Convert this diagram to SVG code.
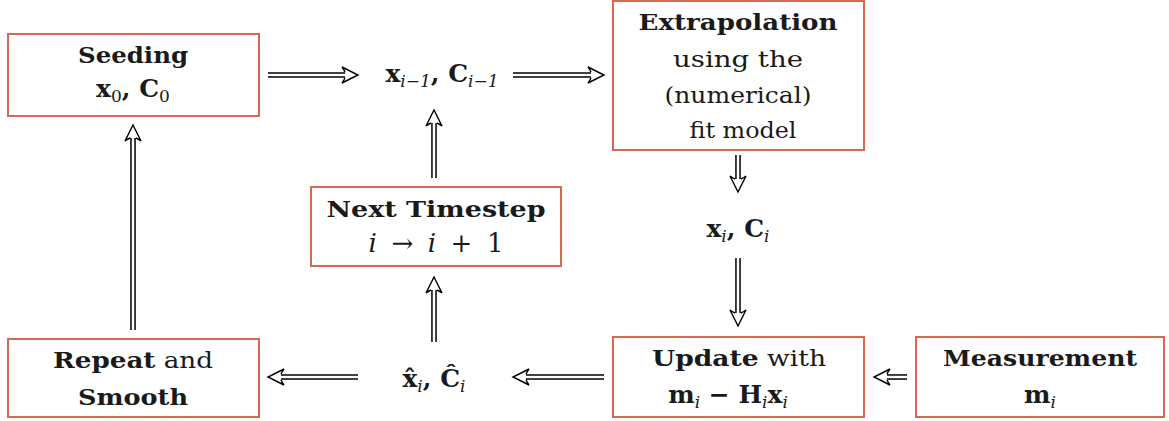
<svg xmlns="http://www.w3.org/2000/svg" width="1169" height="421" viewBox="0 0 1169 421">
<style>
.box{fill:#fff;stroke:#d4694f;stroke-width:2}
text{font-family:"DejaVu Serif","Liberation Serif",serif;fill:#1a1a1a;text-anchor:middle}
.b{font-weight:bold;font-size:22px}
.r{font-size:22px}
.m{font-size:25px;font-weight:bold}
.sub{font-size:17px;font-style:italic;font-weight:normal}
.sn{font-size:17px;font-weight:normal}
.o{stroke:#000;stroke-width:5.6;fill:none}
.i{stroke:#fff;stroke-width:2.6;fill:none}
.h{fill:#fff;stroke:#000;stroke-width:1.4;stroke-linejoin:miter}
</style>
<defs>
<path id="hd" class="h" d="M-13,-2.8 Q-14,-5.5 -16,-8 L0,0 L-16,8 Q-14,5.5 -13,2.8"/>
</defs>
<g id="connectors">
<path class="o" d="M268,75H346"/><use href="#hd" transform="translate(358,75)"/><path class="i" d="M266,75H347"/>
<path class="o" d="M513,75H592"/><use href="#hd" transform="translate(604,75)"/><path class="i" d="M511,75H593"/>
<path class="o" d="M738,155V180"/><use href="#hd" transform="translate(738,192) rotate(90)"/><path class="i" d="M738,153V181"/>
<path class="o" d="M738,258V314"/><use href="#hd" transform="translate(738,326) rotate(90)"/><path class="i" d="M738,256V315"/>
<path class="o" d="M604,377H525"/><use href="#hd" transform="translate(513,377) rotate(180)"/><path class="i" d="M606,377H524"/>
<path class="o" d="M907,377H886"/><use href="#hd" transform="translate(874,377) rotate(180)"/><path class="i" d="M909,377H885"/>
<path class="o" d="M358,377H280"/><use href="#hd" transform="translate(268,377) rotate(180)"/><path class="i" d="M360,377H279"/>
<path class="o" d="M434,342V289"/><use href="#hd" transform="translate(434,277) rotate(-90)"/><path class="i" d="M434,344V288"/>
<path class="o" d="M434,178V122"/><use href="#hd" transform="translate(434,110) rotate(-90)"/><path class="i" d="M434,180V121"/>
<path class="o" d="M133,330V137"/><use href="#hd" transform="translate(133,125) rotate(-90)"/><path class="i" d="M133,332V136"/>
</g>
<g id="seeding">
<rect class="box" x="8" y="34" width="251" height="82"/>
<text class="b" x="133" y="63" textLength="110" lengthAdjust="spacingAndGlyphs">Seeding</text>
<text class="m" x="133" y="97">x<tspan class="sn" dy="5">0</tspan><tspan dy="-5">, C</tspan><tspan class="sn" dy="5">0</tspan></text>
</g>
<g id="state-prev">
<text class="m" x="442" y="82">x<tspan class="sub" dy="5">i−1</tspan><tspan dy="-5">, C</tspan><tspan class="sub" dy="5">i−1</tspan></text>
</g>
<g id="extrapolation">
<rect class="box" x="613" y="1" width="251" height="149"/>
<text class="b" x="738" y="30" textLength="199" lengthAdjust="spacingAndGlyphs">Extrapolation</text>
<text class="r" x="738" y="67" textLength="130" lengthAdjust="spacingAndGlyphs">using the</text>
<text class="r" x="738" y="103" textLength="147" lengthAdjust="spacingAndGlyphs">(numerical)</text>
<text class="r" x="743" y="138" textLength="107" lengthAdjust="spacingAndGlyphs">fit model</text>
</g>
<g id="state-pred">
<text class="m" x="738" y="237">x<tspan class="sub" dy="5">i</tspan><tspan dy="-5">, C</tspan><tspan class="sub" dy="5">i</tspan></text>
</g>
<g id="next-timestep">
<rect class="box" x="311" y="187" width="250" height="79"/>
<text class="b" x="436" y="217" textLength="219" lengthAdjust="spacingAndGlyphs">Next Timestep</text>
<text x="436" y="252" style="font-size:26px" textLength="135" lengthAdjust="spacing"><tspan font-style="italic">i</tspan> → <tspan font-style="italic">i</tspan> + 1</text>
</g>
<g id="state-upd">
<text class="m" x="434" y="387">x̂<tspan class="sub" dy="5">i</tspan><tspan dy="-5">, Ĉ</tspan><tspan class="sub" dy="5">i</tspan></text>
</g>
<g id="repeat-smooth">
<rect class="box" x="8" y="339" width="251" height="78"/>
<text x="133" y="368" class="r" textLength="160" lengthAdjust="spacingAndGlyphs"><tspan font-weight="bold">Repeat</tspan> and</text>
<text class="b" x="133" y="405" textLength="110" lengthAdjust="spacingAndGlyphs">Smooth</text>
</g>
<g id="update">
<rect class="box" x="613" y="337" width="251" height="80"/>
<text x="739" y="366" class="r" textLength="174" lengthAdjust="spacingAndGlyphs"><tspan font-weight="bold">Update</tspan> with</text>
<text class="m" x="728" y="403">m<tspan class="sub" dy="5">i</tspan><tspan dy="-5"> − H</tspan><tspan class="sub" dy="5">i</tspan><tspan dy="-5">x</tspan><tspan class="sub" dy="5">i</tspan></text>
</g>
<g id="measurement">
<rect class="box" x="916" y="337" width="248" height="80"/>
<text class="b" x="1040" y="366" textLength="194" lengthAdjust="spacingAndGlyphs">Measurement</text>
<text class="m" x="1040" y="403">m<tspan class="sub" dy="5">i</tspan></text>
</g>
</svg>
